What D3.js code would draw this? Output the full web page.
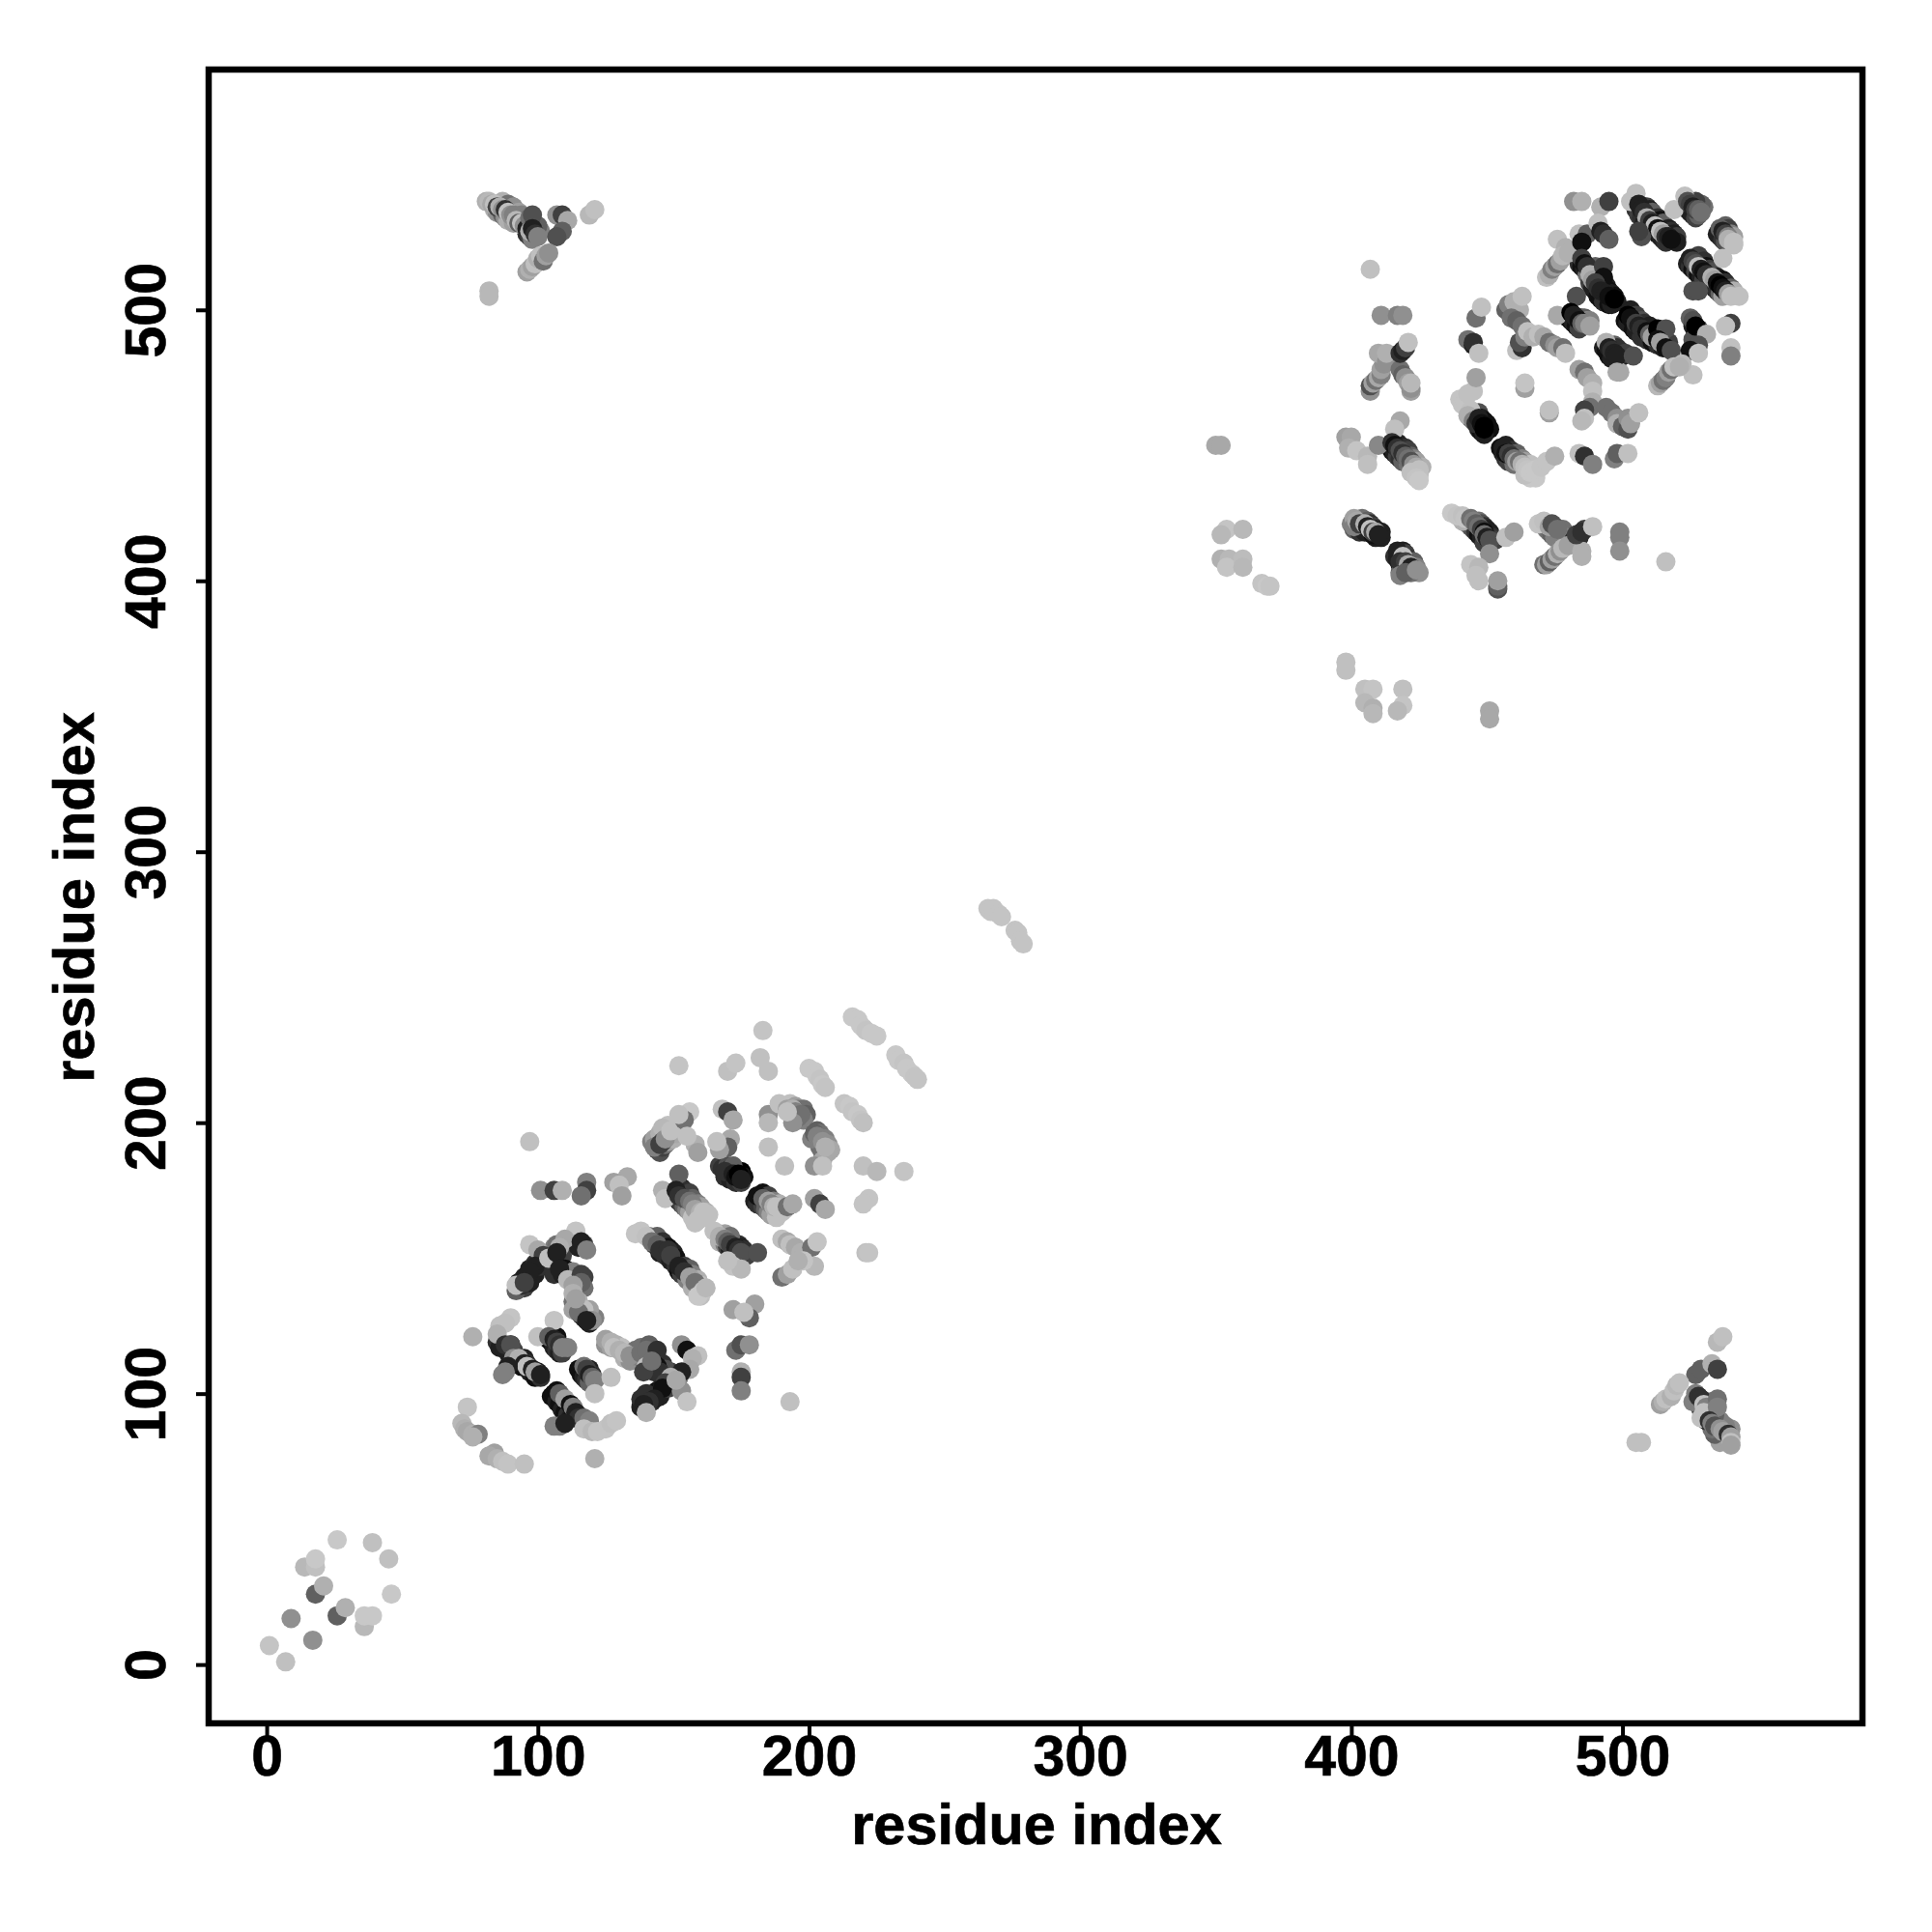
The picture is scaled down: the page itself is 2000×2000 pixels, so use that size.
<!DOCTYPE html>
<html><head><meta charset="utf-8">
<script src="https://cdn.jsdelivr.net/npm/d3@7/dist/d3.min.js"></script>
<style>html,body{margin:0;padding:0;background:#fff}</style>
</head><body><svg id="c" width="2000" height="2000"></svg>
<script>
const xTicks=[0,100,200,300,400,500];
const yTicks=[0,100,200,300,400,500];
const xTitle="residue index", yTitle="residue index";
// each row: residue i, residue j, grey level
const nearOrigin=[[1,7,196],[7,1,192],[9,17,144],[17,9,144],[18,26,96],[21,29,176],[26,18,96],[29,21,176],[14,36,184],[18,36,192],[18,39,200],[26,46,200],[39,45,192],[45,39,192],[46,26,200],[36,14,184],[36,18,200],[39,18,200]];
const hairpin=[[266,279,196],[267,278,196],[268,279,196],[270,277,196],[271,276,196],[276,271,196],[277,270,196],[278,267,196],[279,266,196]];
const upperLeftUnder=[[95,533,112],[96,534,144],[97,532,96],[96,528,48],[97,527,64],[98,526,128],[101,529,128],[100,531,96],[84,537,176],[85,536,144],[87,535,96],[88,534,144],[89,533,176],[91,532,160],[87,540,176],[89,539,112],[91,538,144],[93,536,160],[94,535,128]];
const lowerRightUnder=[[537,84,112],[536,82,160],[534,85,96],[533,87,112],[531,90,48],[530,91,96],[529,94,64],[528,96,64],[527,98,32],[526,97,128],[540,87,144],[538,88,128],[536,90,128],[534,92,96],[532,94,80],[533,97,112]];
const upperLeftCorner=[[82,507,184],[82,505,184],[81,540,176],[82,540,184],[83,539,168],[84,539,192],[85,538,64],[86,538,176],[87,537,144],[88,537,48],[89,536,192],[90,535,144],[91,535,128],[92,533,184],[93,532,96],[94,532,192],[95,531,144],[96,530,32],[97,534,112],[97,529,176],[98,535,80],[98,530,32],[99,528,48],[100,527,128],[107,535,144],[109,535,64],[111,533,168],[109,529,96],[107,527,80],[96,514,160],[97,515,176],[98,516,160],[99,517,192],[100,519,176],[101,520,192],[102,518,112],[103,520,160],[104,521,144],[119,535,184],[121,537,192]];
const lowerRightCorner=[[505,82,192],[507,82,192],[535,119,184],[537,121,192],[527,107,96],[529,109,96],[533,111,176],[535,109,64],[514,96,160],[515,97,176],[516,98,192],[518,99,176],[519,101,192],[520,103,184],[521,104,192],[527,100,128],[528,99,48],[529,98,48],[530,96,192],[531,95,128],[529,91,192],[530,93,192],[535,98,112],[535,95,128],[532,90,48],[533,89,128],[534,88,80],[536,87,144],[537,86,160],[539,85,48],[540,84,160],[540,82,192],[540,81,160]];
const domainBUnder=[[446,461,64],[447,462,80],[448,460,32],[449,459,16],[450,458,16],[451,456,16],[447,456,32],[448,455,16],[449,454,32],[445,461,144],[444,460,112],
[455,449,16],[456,447,32],[457,445,48],[458,444,64],[460,443,112],[457,450,32],[459,448,48],[461,447,96],[463,445,128],[464,444,160],[466,443,192],[466,438,200],[468,438,200],[464,439,192],
[414,450,32],[415,448,16],[416,447,32],[417,446,64],[418,445,48],[419,444,96],[421,443,112],[417,451,48],[418,450,32],[420,449,48],[421,448,64],[422,446,96],[423,445,128],[424,444,160],[426,442,176],[425,439,192],
[400,421,128],[401,419,96],[403,418,48],[404,419,48],[405,418,32],[404,423,112],[406,422,96],[407,421,48],[408,420,64],[409,419,32],[411,418,32],[411,416,32],[409,416,32],[408,417,16],
[416,409,48],[417,408,32],[418,406,32],[419,405,48],[419,411,32],[420,410,64],[421,408,48],[423,407,96],[424,405,128],[425,403,144],[418,403,96],[422,403,112],
[443,421,112],[444,420,96],[445,419,80],[446,418,48],[447,417,16],[448,416,32],[447,422,112],[448,421,80],[449,420,48],[450,419,32],[451,418,32],[452,416,48],[453,415,64],[449,414,64],[441,422,176],
[475,420,80],[477,417,112],[472,419,128],[473,418,112],[474,417,96],[475,416,128],[478,419,112],[479,416,128],[482,415,48],[484,416,48],[486,419,64],
[484,517,48],[485,516,16],[486,515,32],[487,513,112],[488,510,64],[489,508,32],[490,507,32],[491,505,16],[492,504,16],[493,503,48],[495,502,16],[496,502,32],[494,509,32],[495,507,16],[496,506,32],[497,505,16],[498,503,32],[491,513,48],[492,515,32],[490,516,96],
[480,498,16],[480,497,32],[481,496,16],[482,495,32],[483,494,16],[484,493,64],[485,497,64],[486,497,96],[487,496,144],[488,496,128],
[501,496,16],[502,495,32],[504,493,16],[505,492,32],[507,490,48],[509,489,48],[503,500,32],[505,498,64],[507,496,80],[508,495,48],[510,494,32],[512,492,32],[511,488,16],[513,487,48],[515,486,32],[514,491,16],[517,488,64],
[493,486,32],[494,485,16],[495,483,16],[496,482,32],[497,487,96],[498,486,48],[499,485,48],[500,483,32],[501,484,64],
[505,537,48],[506,535,64],[507,534,48],[508,532,32],[509,531,64],[511,530,16],[512,529,32],[513,528,16],[514,527,32],[515,526,32],[516,525,48],[509,538,64],[510,537,32],[511,536,96],[513,534,48],[514,533,16],[515,532,96],[517,530,32],[518,529,48],[519,528,32],[520,527,64],[520,525,32],
[523,538,64],[524,537,32],[525,536,32],[526,535,32],[527,534,64],[528,535,96],[530,538,112],[529,539,96],[527,540,64],
[535,528,32],[536,527,32],[537,526,48],[538,525,80],[538,531,96],[539,530,64],[540,528,128],[541,527,160],
[524,517,32],[525,516,48],[526,515,16],[527,514,64],[528,513,16],[529,512,32],[530,511,64],[532,510,48],[533,509,16],[534,508,32],[535,507,48],[536,506,96],[537,505,160],[528,520,64],[530,518,48],[531,516,16],[532,515,64],[533,514,80],[535,512,32],[537,511,16],[538,510,48],[540,508,96],[541,507,176],
[525,497,96],[526,494,32],[527,492,16],[528,493,64],[526,489,80]];
const domainBWest=[[350,450,168],[352,450,168],[354,419,196],[352,417,184],[360,419,184],[352,408,176],[355,408,184],[354,405,196],[360,408,188],[360,405,184],[367,399,196],[369,398,200],[370,398,196],[398,370,192],[398,367,192],[405,360,192],[408,360,196],[405,355,184],[408,353,176],[408,351,184],[419,360,192],[419,354,196],[417,352,184],[451,352,168],[451,349,168],
[401,423,160],[401,420,128],[402,422,168],[403,421,64],[405,421,176],[406,420,32],[407,419,192],[408,418,64],[409,418,168],[410,417,32],
[417,411,32],[419,409,192],[418,407,48],[420,407,64],[421,406,168],[418,402,128],[422,405,32],[420,403,96],[424,404,144],
[437,425,200],[439,424,196],[441,424,192],[442,423,196],[444,423,112],[445,422,128],[446,421,96],[447,420,112],[448,419,64],[449,418,16],[449,417,112],[450,416,32],[451,415,80],[457,416,192],[460,418,160],[451,410,144],[444,406,196],[447,405,184],[446,402,192],[447,400,192],[454,397,80],[454,398,96],[454,400,160],
[469,421,196],[471,422,192],[473,420,160],[474,421,80],[476,419,112],[471,406,112],[472,406,160],[473,407,96],[474,408,160],[475,409,112],[476,410,176],[477,411,144],[478,412,184],[480,413,160],[485,411,176],[485,409,176],[483,417,64],[485,418,48],[489,420,192],[499,418,128],[499,416,128],[499,411,144],[516,407,192]];
const domainBMiddle=[[398,453,160],[400,453,168],[399,449,176],[402,448,196],[406,446,184],[406,443,192],[410,450,136],[418,459,168],[416,456,192],
[415,451,48],[416,450,16],[417,449,48],[418,448,80],[419,447,48],[420,446,96],[421,445,112],[422,444,80],[423,443,144],[424,442,168],[425,441,192],[422,440,192],[424,438,196],[425,437,200],
[440,467,196],[441,465,196],[442,466,196],[443,469,192],[444,463,192],[445,470,192],[446,475,160],[443,461,176],[445,459,128],[446,458,48],[447,460,32],[448,458,16],[449,457,0],[449,456,0],[456,449,32],[457,447,16],[458,447,64],[459,446,48],[460,445,112],[461,444,160],[462,444,112],[463,443,176],[464,442,192],[465,441,196],[466,440,200],[467,440,200],[468,441,200],[470,442,196],[472,444,196],[475,446,176],[464,471,160],[464,473,196],[473,462,160],[473,463,192],[484,447,192],[486,446,48],[489,443,128],[497,445,128],[498,447,96],[502,447,192],[499,477,168],
[407,470,144],[407,472,80],[408,473,160],[409,474,112],[410,475,168],[411,476,128],[411,478,160],[412,480,144],[410,484,168],[413,481,144],[413,484,176],[418,478,112],[419,476,96],[420,475,144],[421,473,160],[422,470,160],[422,471,144],[422,473,184],[418,484,48],[419,485,32],[420,486,64],[421,488,192],[411,498,144],[417,498,128],[419,498,144],[407,515,192],
[446,497,112],[448,501,192],[443,489,112],[445,487,32],[445,488,48],[447,484,192],
[457,500,96],[458,502,128],[460,503,176],[462,500,176],[463,505,192],[459,497,112],[461,496,96],[463,494,112],[461,485,192],[463,486,48],[462,488,80],[464,490,128],[465,492,192],[467,490,176],[469,491,192],[471,490,168],[473,488,112],[475,487,144],[476,486,160],[478,486,112],[479,484,192],
[484,478,160],[486,477,112],[487,475,160],[489,473,176],[489,470,192],[489,466,176],[488,464,112],[486,463,64],[486,460,192],[485,459,184],[494,464,112],[496,462,112],[498,460,144],[498,458,176],[500,457,96],[502,456,80],[502,460,144],[503,458,160],[506,462,192]];
const domainBEast=[[482,540,144],[485,540,176],[492,538,176],[495,540,64],[505,543,192],[503,540,192],[506,539,32],[507,537,32],[508,536,48],[509,534,176],[510,533,64],[511,532,32],[512,531,192],[513,530,16],[514,529,192],[515,528,160],[516,527,48],[517,527,32],[518,526,16],[507,527,80],[506,529,64],[519,537,192],[523,542,192],[524,540,80],[525,539,64],[526,538,32],[527,537,64],[528,537,96],[529,536,112],[536,530,96],[537,529,32],[538,528,64],[539,527,128],[539,526,176],[541,525,192],[541,524,192],[537,519,192],
[525,519,32],[526,518,64],[527,517,80],[528,516,192],[529,515,32],[530,514,16],[531,513,48],[533,512,176],[534,511,160],[535,510,16],[536,509,0],[537,508,16],[538,507,32],[539,506,160],[540,505,192],[543,505,192],[526,507,80],[528,507,80],
[476,526,192],[479,523,176],[472,512,192],[473,513,176],[474,515,128],[475,516,160],[476,517,112],[477,518,160],[478,520,184],[480,521,176],[484,528,192],[487,528,96],[485,525,16],[491,532,192],[492,529,32],[493,528,48],[495,526,96],
[485,519,64],[486,517,16],[487,516,48],[488,513,176],[489,511,160],[493,516,64],[493,512,16],[490,510,64],[491,508,48],[492,507,32],[494,506,32],[495,505,16],[497,504,0],[483,505,80],[476,498,168],[481,499,0],[482,498,32],[483,497,32],[484,496,16],[485,495,96],[486,495,128],[488,494,160],[502,498,0],[503,497,16],[505,495,64],[506,494,32],[507,493,48],[509,492,16],[510,491,96],[511,490,160],[513,493,0],[516,493,80],[513,489,16],[514,488,160],[516,486,16],[518,485,80],[494,488,176],[495,486,32],[496,485,48],[497,484,32],[498,483,32],[504,483,80],[498,477,168],
[526,496,80],[527,494,0],[531,491,176],[528,487,80],[525,485,16],[528,484,192],[540,495,64],[538,494,192],[540,486,192],[540,483,128],[526,476,192],[522,480,184],[513,472,184],[514,473,160],[515,474,112],[516,475,128],[517,477,160],[518,478,112],[519,479,192],[521,479,176]];
const domainAUnder=[[85,119,48],[86,117,32],[90,118,32],[91,116,64],[89,115,32],[90,112,32],[92,111,16],[94,110,16],[95,113,32],[96,111,48],[97,108,32],[99,106,16],[100,108,32],[101,106,48],
[104,120,16],[105,119,16],[106,117,32],[107,116,48],[108,115,32],[109,115,64],[107,121,16],[110,117,96],
[115,109,16],[116,107,16],[117,106,32],[118,105,48],[119,109,32],[120,107,48],[119,104,96],
[105,99,16],[106,100,16],[107,97,32],[108,96,16],[109,94,32],[110,93,16],[111,92,48],[112,91,32],[113,92,16],[115,92,48],[116,90,32],[117,89,96],
[93,141,32],[95,143,32],[97,146,32],[99,148,48],[95,139,64],[97,141,32],[99,144,32],[101,147,48],[92,138,96],
[106,154,128],[107,155,112],[108,152,64],[109,151,64],[114,157,32],[117,155,64],[115,154,32],
[107,147,32],[106,144,48],[109,144,32],[110,146,16],[112,142,96],[114,143,96],[113,145,128],[117,143,64],[117,139,112],[115,139,112],
[113,134,112],[114,132,96],[115,130,64],[116,129,64],[117,128,48],[118,129,96],[119,126,32],[121,128,128],[119,131,160],[113,131,160],
[141,158,128],[143,157,112],[144,158,96],[146,156,48],[146,153,32],[148,154,16],[149,153,16],[150,152,32],[143,155,64],[145,152,32],[147,151,48],[149,149,32],[151,150,16],[151,147,48],[152,145,16],[153,146,32],[154,147,64],[153,144,64],[156,146,96],[155,142,128],[157,144,128],[159,142,176],[157,139,176],[160,140,192],[160,136,192],
[167,156,176],[169,155,128],[170,154,64],[171,153,32],[172,152,32],[173,151,48],[172,156,96],[174,155,48],[175,154,32],[176,153,48],[177,151,64],[174,150,48],[169,159,160],[171,158,112],
[150,173,32],[151,172,32],[152,171,48],[153,170,64],[154,169,96],[155,168,128],[156,167,160],[153,176,32],[154,175,48],[156,174,64],[157,172,96],[159,170,128],[160,169,160],[162,167,176],[163,166,192],[158,163,192],[157,165,192],
[180,171,32],[181,170,48],[183,169,64],[184,168,96],[185,167,128],[186,166,160],[188,165,192],[183,174,16],[185,173,64],[187,171,128],[189,170,176],[191,168,192],
[167,184,64],[168,183,48],[170,184,80],[171,183,32],[173,182,0],[175,182,0],[176,180,16],[169,180,48],[171,179,32],[173,178,48],[175,178,64],
[144,190,64],[145,189,80],[146,191,64],[147,192,112],[142,193,128],[143,194,160],[145,196,176],[148,193,160],[150,194,176],
[191,206,176],[193,207,192],[195,206,160],[196,205,128],[198,205,112],[199,203,96],[198,201,128],[196,202,112],
[203,197,96],[204,196,112],[206,194,128],[207,192,144],[208,190,168],[205,189,128],[204,191,112],[201,194,128],
[140,97,32],[141,99,16],[143,100,32],[144,101,16],[146,103,32],[147,106,48],[149,108,64],[138,95,32],[138,98,48],[140,100,48],[142,97,48],[145,99,32],[148,102,64],[150,104,96],[152,106,128],
[125,118,144],[127,117,160],[129,118,176],[131,117,192],[132,113,176],[134,112,144],[136,114,128],[136,116,112],[138,117,112],[141,118,96],[140,113,112],[142,114,64],[141,111,64],[143,108,48],[146,111,48],[147,109,80]];
const domainAWest=[[76,121,176],[74,95,196],[72,89,184],[73,87,176],[74,86,168],[76,85,176],[78,85,128],[76,84,176],
[84,78,160],[82,77,168],[85,76,176],[87,75,192],[89,74,196],[95,74,192],[121,76,176],
[90,128,196],[86,125,192],[88,126,192],[85,122,176],[88,118,48],[90,118,80],[91,113,144],[93,113,176],[95,111,32],[96,110,192],[98,109,32],[99,108,160],[101,107,32],[89,110,32],[88,108,128],[87,107,128],
[100,121,192],[106,127,196],[104,121,96],[106,120,32],[107,119,64],[108,118,48],[109,117,128],[111,117,128],
[117,110,112],[118,109,64],[119,107,32],[120,106,96],[121,105,128],[127,106,192],[121,100,192],
[107,101,16],[108,100,96],[110,98,160],[112,96,16],[113,95,128],[114,93,32],[115,91,48],[117,91,112],[119,90,128],[108,88,128],[106,88,128],[110,89,32],[117,87,192],[120,86,184],[122,86,196],[125,87,196],[127,89,192],[129,90,196],
[125,120,160],[127,119,176],[128,117,192],[130,116,176],[132,115,184],[134,114,144],[138,115,112],[140,116,112],[144,116,48],[140,110,192],[144,110,16],[145,108,48],[139,108,64],[142,112,112],
[153,118,144],[155,116,16],[159,114,192],[157,113,176],[156,109,168],[153,108,32],[149,106,176],[147,104,64],[146,102,16],[143,98,32],[141,97,48],[139,96,32],[140,93,176],[153,101,144],[155,97,196],[151,105,168],
[172,131,160],[180,133,160],[178,128,96],[176,130,192],[173,116,112],[175,118,80],[178,118,144],[175,108,176],[175,106,64],[175,101,128],[193,97,192]];
const domainACentre=[[97,155,196],[100,153,168],[102,151,64],[99,147,32],[96,143,32],[94,140,48],[92,140,192],[104,150,192],[97,145,32],[95,141,64],
[114,160,196],[110,157,168],[108,154,176],[107,152,32],[116,156,32],[118,153,128],[108,146,32],[111,142,184],[116,144,64],[116,141,96],[113,140,160],[115,134,176],[117,131,192],[120,127,144],[115,130,112],[118,127,32],[113,137,176],[114,135,160],
[138,160,196],[136,159,196],[140,158,192],[142,156,112],[144,155,96],[145,153,48],[148,153,48],[149,151,64],[152,147,32],[154,145,48],[156,143,160],[158,141,112],[161,138,196],[159,136,200],[162,139,184],
[165,160,192],[167,158,176],[169,157,128],[170,156,96],[171,155,64],[173,154,32],[174,153,48],[175,152,80],[181,152,80],[172,147,196],[175,146,184],[170,149,192],
[190,157,192],[192,156,168],[193,155,192],[195,154,168],[197,152,176],[201,154,112],[203,156,196],[202,147,184],[198,149,196],[190,143,112],[192,144,160],[194,146,192],[196,149,176],[221,152,192],
[97,193,192],[101,175,144],[106,175,64],[109,175,176],[118,178,128],[118,175,64],[116,173,112],[133,180,168],[128,178,160],[130,177,192],[131,173,160],
[146,175,176],[152,181,96],[147,172,192],[151,175,32],[152,173,48],[154,172,80],[156,171,112],[157,170,128],[158,168,160],[160,167,176],[161,167,192],[159,164,192],[162,165,192],
[148,199,192],[146,198,184],[151,196,168],[146,193,80],[143,191,128],[145,192,64],[147,194,144],[149,197,192],[156,204,200],[154,201,112],[152,203,192],[158,192,176],[155,195,192],[159,189,160],
[152,221,196],[170,219,192],[173,222,196],[183,234,196],[182,224,192],[185,219,192]];
const domainAEast=[[168,205,192],[170,204,64],[172,201,168],[171,194,168],[170,191,96],[167,190,160],[166,193,192],[172,184,96],[169,182,48],[172,181,32],[173,180,16],[174,181,0],[175,179,32],
[185,203,144],[185,200,184],[189,207,192],[192,205,160],[194,205,176],[195,204,128],[197,203,112],[194,200,144],[192,204,192],
[185,191,192],[191,184,192],[202,196,96],[203,195,128],[205,193,144],[207,189,168],[205,186,168],[202,184,144],[205,184,192],[206,191,176],
[181,173,16],[183,172,96],[185,171,160],[186,170,128],[187,169,176],[188,169,192],[190,167,192],[192,169,112],[194,170,168],[202,172,160],[204,170,64],[206,168,168],
[220,184,192],[225,182,184],[235,182,196],[222,172,196],[220,170,196],[222,152,196],
[216,239,200],[218,238,200],[219,236,200],[220,235,200],[221,234,196],[223,233,200],[225,232,200],
[232,225,200],[233,223,200],[235,222,196],[236,220,200],[238,218,200],[239,217,196],[240,216,196],
[200,220,200],[202,219,200],[203,217,200],[204,216,196],[205,214,200],[206,213,196],
[213,207,196],[215,206,200],[216,204,196],[218,203,200],[219,201,196],[220,200,192]];
const layers=[nearOrigin,domainAUnder,domainAWest,domainACentre,domainAEast,hairpin,domainBUnder,domainBWest,domainBMiddle,domainBEast,upperLeftUnder,upperLeftCorner,lowerRightUnder,lowerRightCorner];

const frame={left:216,right:1928,top:72,bottom:1784};
const x=d3.scaleLinear().domain([-21.4,588.5]).range([frame.left,frame.right]);
const y=d3.scaleLinear().domain([-21.7,588.7]).range([frame.bottom,frame.top]);
const svg=d3.select("#c");
const font='"Liberation Sans",Arial,sans-serif';
svg.append("g").selectAll("circle").data(layers.flat()).join("circle")
 .attr("cx",d=>x(d[0])).attr("cy",d=>y(d[1])).attr("r",10)
 .attr("fill",d=>d3.rgb(d[2],d[2],d[2]).formatHex());
const gx=svg.append("g").attr("transform",`translate(0,${frame.bottom})`)
 .call(d3.axisBottom(x).tickValues(xTicks).tickSize(13).tickFormat(d3.format("d")));
const gy=svg.append("g").attr("transform",`translate(${frame.left},0)`)
 .call(d3.axisLeft(y).tickValues(yTicks).tickSize(13).tickFormat(d3.format("d")));
gx.select(".domain").remove();gy.select(".domain").remove();
[gx,gy].forEach(g=>{g.selectAll("line").attr("stroke","#000").attr("stroke-width",4);
 g.selectAll("text").attr("fill","#000").attr("stroke","#000").attr("stroke-width",0.6).attr("font-family",font).attr("font-weight","bold").attr("font-size",59);});
gx.selectAll("text").attr("dy",null).attr("y",null).attr("dominant-baseline",null).attr("transform","translate(0,54)");
gy.selectAll("text").attr("x",null).attr("dy",null).attr("text-anchor","middle").attr("transform","translate(-45,0) rotate(-90)");
svg.append("rect").attr("x",frame.left).attr("y",frame.top).attr("width",frame.right-frame.left).attr("height",frame.bottom-frame.top)
 .attr("fill","none").attr("stroke","#000").attr("stroke-width",6.5);
const title=s=>s.attr("text-anchor","middle").attr("font-family",font).attr("font-weight","bold").attr("font-size",59.5).attr("stroke","#000").attr("stroke-width",0.7);
svg.append("text").attr("x",1073).attr("y",1909).call(title).text(xTitle);
svg.append("text").attr("transform","translate(97,929) rotate(-90)").call(title).text(yTitle);
</script></body></html>
